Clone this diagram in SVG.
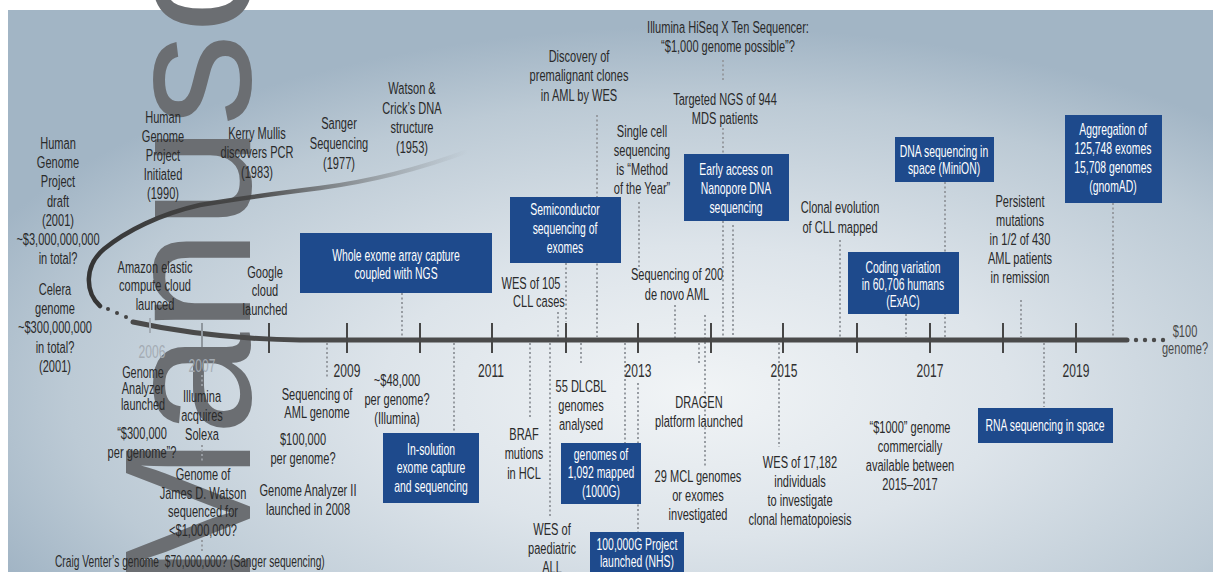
<svg xmlns="http://www.w3.org/2000/svg" width="1213" height="572" viewBox="0 0 1213 572">
<defs>
<radialGradient id="bg" cx="0.57" cy="0.68" r="0.65">
<stop offset="0" stop-color="#f1f4f6"/>
<stop offset="0.4" stop-color="#dde4ea"/>
<stop offset="0.8" stop-color="#bccad5"/>
<stop offset="1" stop-color="#a2b5c5"/>
</radialGradient>
<linearGradient id="curveFade" gradientUnits="userSpaceOnUse" x1="90" y1="0" x2="468" y2="0">
<stop offset="0" stop-color="#353535"/>
<stop offset="0.45" stop-color="#454545" stop-opacity="0.9"/>
<stop offset="1" stop-color="#707070" stop-opacity="0"/>
</linearGradient>
<style>
.t{font-family:"Liberation Sans",Arial,sans-serif;font-size:17px;fill:#2a2a2a;text-anchor:middle}
.w{font-family:"Liberation Sans",Arial,sans-serif;font-size:16px;fill:#ffffff;text-anchor:middle}
.yr{font-family:"Liberation Sans",Arial,sans-serif;font-size:18px;fill:#2f2f2f;text-anchor:middle}
.yf{font-family:"Liberation Sans",Arial,sans-serif;font-size:18px;fill:#a3abb3;text-anchor:middle}
.box{fill:#1e4a8c}
.dot{stroke:#979ca2;stroke-width:2;stroke-dasharray:2 2.5;fill:none}
.tick{stroke:#474747;stroke-width:2}
</style>
</defs>

<rect x="0" y="0" width="1213" height="572" fill="#ffffff"/>
<rect x="8" y="10" width="1205" height="562" fill="url(#bg)"/>

<text transform="translate(250,590) rotate(-90) scale(1.03,1)" font-family="Liberation Sans, Arial, sans-serif" font-size="180" fill="#6b6e72">Manusc</text>

<g id="connectors">
<line class="dot" x1="402" y1="293" x2="402" y2="337"/>
<line class="dot" x1="558" y1="312" x2="558" y2="337"/>
<line class="dot" x1="566" y1="263" x2="566" y2="322"/>
<line class="dot" x1="597" y1="115" x2="597" y2="337"/>
<line class="dot" x1="639" y1="202" x2="639" y2="270"/>
<line class="dot" x1="675" y1="305" x2="675" y2="340"/>
<line class="dot" x1="705" y1="315" x2="705" y2="467"/>
<line class="dot" x1="723" y1="60" x2="723" y2="82"/>
<line class="dot" x1="723" y1="128" x2="723" y2="153"/>
<line class="dot" x1="723" y1="221" x2="723" y2="337"/>
<line class="dot" x1="733" y1="225" x2="733" y2="337"/>
<line class="dot" x1="840" y1="240" x2="840" y2="337"/>
<line class="dot" x1="906" y1="314" x2="906" y2="337"/>
<line class="dot" x1="945" y1="182" x2="945" y2="337"/>
<line class="dot" x1="1021" y1="300" x2="1021" y2="337"/>
<line class="dot" x1="1113" y1="203" x2="1113" y2="338"/>
<line class="dot" x1="202" y1="375" x2="202" y2="388"/>
<line class="dot" x1="202" y1="445" x2="202" y2="462"/>
<line class="dot" x1="202" y1="540" x2="202" y2="553"/>
<line class="dot" x1="327" y1="343" x2="327" y2="378"/>
<line class="dot" x1="454" y1="343" x2="454" y2="432"/>
<line class="dot" x1="530" y1="343" x2="530" y2="417"/>
<line class="dot" x1="550" y1="343" x2="550" y2="518"/>
<line class="dot" x1="581" y1="343" x2="581" y2="365"/>
<line class="dot" x1="625" y1="343" x2="625" y2="443"/>
<line class="dot" x1="638" y1="383" x2="638" y2="532"/>
<line class="dot" x1="699" y1="343" x2="699" y2="365"/>
<line class="dot" x1="779" y1="343" x2="779" y2="447"/>
<line class="dot" x1="1044" y1="343" x2="1044" y2="407"/>
</g>

<g id="timeline">
<path d="M100,306 C85,292 84,266 104,249 C126,231 160,214 200,205 C240,198 280,193 320,188 C380,180 425,167 468,151" fill="none" stroke="url(#curveFade)" stroke-width="4.5" stroke-linecap="round"/>
<circle cx="108" cy="309" r="2" fill="#444"/>
<circle cx="117" cy="313" r="2" fill="#444"/>
<circle cx="126" cy="317" r="2" fill="#444"/>
<path d="M133,322 C170,330 230,339 300,340 L1127,340" fill="none" stroke="#4a4a4a" stroke-width="5" stroke-linecap="round"/>
<circle cx="1136" cy="340" r="2.2" fill="#4a4a4a"/>
<circle cx="1145" cy="340" r="2.2" fill="#4a4a4a"/>
<circle cx="1154" cy="340" r="2.2" fill="#4a4a4a"/>
<circle cx="1163" cy="340" r="2.2" fill="#4a4a4a"/>
<line x1="150" y1="318" x2="150" y2="333" stroke="#a3abb3" stroke-width="2"/>
<line x1="202" y1="323" x2="202" y2="347" stroke="#8f979e" stroke-width="2"/>
<line class="tick" x1="269" y1="323" x2="269" y2="353"/>
<line class="tick" x1="347" y1="323" x2="347" y2="353"/>
<line class="tick" x1="420" y1="323" x2="420" y2="353"/>
<line class="tick" x1="492" y1="323" x2="492" y2="353"/>
<line class="tick" x1="566" y1="323" x2="566" y2="353"/>
<line class="tick" x1="638" y1="323" x2="638" y2="353"/>
<line class="tick" x1="711" y1="323" x2="711" y2="353"/>
<line class="tick" x1="783" y1="323" x2="783" y2="353"/>
<line class="tick" x1="857" y1="323" x2="857" y2="353"/>
<line class="tick" x1="930" y1="323" x2="930" y2="353"/>
<line class="tick" x1="1003" y1="323" x2="1003" y2="353"/>
<line class="tick" x1="1076" y1="323" x2="1076" y2="353"/>
<text class="yf" transform="translate(152,358) scale(0.67,1)">2006</text>
<text class="yf" transform="translate(202,372) scale(0.67,1)">2007</text>
<text class="yr" transform="translate(347,377) scale(0.67,1)">2009</text>
<text class="yr" transform="translate(491,377) scale(0.67,1)">2011</text>
<text class="yr" transform="translate(638,377) scale(0.67,1)">2013</text>
<text class="yr" transform="translate(784,377) scale(0.67,1)">2015</text>
<text class="yr" transform="translate(930,377) scale(0.67,1)">2017</text>
<text class="yr" transform="translate(1076,377) scale(0.67,1)">2019</text>
</g>

<g id="n-hgp-draft"><text class="t" transform="translate(58,149) scale(0.65,1)"><tspan x="0">Human</tspan><tspan x="0" dy="19.2">Genome</tspan><tspan x="0" dy="19.2">Project</tspan><tspan x="0" dy="19.2">draft</tspan><tspan x="0" dy="19.2">(2001)</tspan><tspan x="0" dy="19.2">~$3,000,000,000</tspan><tspan x="0" dy="19.2">in total?</tspan></text></g>
<g id="n-celera"><text class="t" transform="translate(55,295) scale(0.65,1)"><tspan x="0">Celera</tspan><tspan x="0" dy="19.2">genome</tspan><tspan x="0" dy="19.2">~$300,000,000</tspan><tspan x="0" dy="19.2">in total?</tspan><tspan x="0" dy="19.2">(2001)</tspan></text></g>
<g id="n-hgp-init"><text class="t" transform="translate(163,123) scale(0.65,1)"><tspan x="0">Human</tspan><tspan x="0" dy="19">Genome</tspan><tspan x="0" dy="19">Project</tspan><tspan x="0" dy="19">Initiated</tspan><tspan x="0" dy="19">(1990)</tspan></text></g>
<g id="n-pcr"><text class="t" transform="translate(257,139) scale(0.65,1)"><tspan x="0">Kerry Mullis</tspan><tspan x="0" dy="19.5">discovers PCR</tspan><tspan x="0" dy="19.5">(1983)</tspan></text></g>
<g id="n-sanger"><text class="t" transform="translate(339,129) scale(0.65,1)"><tspan x="0">Sanger</tspan><tspan x="0" dy="20">Sequencing</tspan><tspan x="0" dy="20">(1977)</tspan></text></g>
<g id="n-watson-crick"><text class="t" transform="translate(412,94) scale(0.65,1)"><tspan x="0">Watson &amp;</tspan><tspan x="0" dy="19.7">Crick’s DNA</tspan><tspan x="0" dy="19.7">structure</tspan><tspan x="0" dy="19.7">(1953)</tspan></text></g>
<g id="n-premalignant"><text class="t" transform="translate(579,62) scale(0.65,1)"><tspan x="0">Discovery of</tspan><tspan x="0" dy="19.5">premalignant clones</tspan><tspan x="0" dy="19.5">in AML by WES</tspan></text></g>
<g id="n-hiseq"><text class="t" transform="translate(728,33) scale(0.65,1)"><tspan x="0">Illumina HiSeq X Ten Sequencer:</tspan><tspan x="0" dy="19">“$1,000 genome possible”?</tspan></text></g>
<g id="n-targeted"><text class="t" transform="translate(725,105) scale(0.65,1)"><tspan x="0">Targeted NGS of 944</tspan><tspan x="0" dy="19">MDS patients</tspan></text></g>
<g id="n-single-cell"><text class="t" transform="translate(642,137) scale(0.65,1)"><tspan x="0">Single cell</tspan><tspan x="0" dy="19">sequencing</tspan><tspan x="0" dy="19">is “Method</tspan><tspan x="0" dy="19">of the Year”</tspan></text></g>
<g id="n-clonal-cll"><text class="t" transform="translate(840,213) scale(0.65,1)"><tspan x="0">Clonal evolution</tspan><tspan x="0" dy="20">of CLL mapped</tspan></text></g>
<g id="n-denovo"><text class="t" transform="translate(677,280) scale(0.65,1)"><tspan x="0">Sequencing of 200</tspan><tspan x="0" dy="20">de novo AML</tspan></text></g>
<g id="n-wes105"><text class="t" transform="translate(531,289) scale(0.65,1)"><tspan x="0">WES of 105</tspan><tspan x="12.3" dy="18">CLL cases</tspan></text></g>
<g id="n-amazon"><text class="t" transform="translate(155,273) scale(0.65,1)"><tspan x="0">Amazon elastic</tspan><tspan x="0" dy="18.5">compute cloud</tspan><tspan x="0" dy="18.5">launced</tspan></text></g>
<g id="n-google"><text class="t" transform="translate(265,278) scale(0.65,1)"><tspan x="0">Google</tspan><tspan x="0" dy="18.5">cloud</tspan><tspan x="0" dy="18.5">launched</tspan></text></g>
<g id="n-ga-launch"><text class="t" style="font-size:16px" transform="translate(143,378) scale(0.68,1)"><tspan x="0">Genome</tspan><tspan x="0" dy="16">Analyzer</tspan><tspan x="0" dy="16">launched</tspan></text></g>
<g id="n-300k"><text class="t" transform="translate(142,439) scale(0.65,1)"><tspan x="0">“$300,000</tspan><tspan x="0" dy="19">per genome”?</tspan></text></g>
<g id="n-solexa"><text class="t" transform="translate(202,402) scale(0.65,1)"><tspan x="0">Illumina</tspan><tspan x="0" dy="19">acquires</tspan><tspan x="0" dy="19">Solexa</tspan></text></g>
<g id="n-watson-genome"><text class="t" transform="translate(203,480) scale(0.65,1)"><tspan x="0">Genome of</tspan><tspan x="0" dy="18.7">James D. Watson</tspan><tspan x="0" dy="18.7">sequenced for</tspan><tspan x="0" dy="18.7">&lt;$1,000,000?</tspan></text></g>
<g id="n-venter"><text class="t" style="text-anchor:start" transform="translate(55,567) scale(0.65,1)" textLength="415" lengthAdjust="spacingAndGlyphs">Craig Venter’s genome&#160; $70,000,000? (Sanger sequencing)</text></g>
<g id="n-aml-genome"><text class="t" transform="translate(317,400) scale(0.65,1)"><tspan x="0">Sequencing of</tspan><tspan x="0" dy="18">AML genome</tspan></text></g>
<g id="n-100k"><text class="t" transform="translate(303,445) scale(0.65,1)"><tspan x="0">$100,000</tspan><tspan x="0" dy="19">per genome?</tspan></text></g>
<g id="n-ga2"><text class="t" transform="translate(308,496) scale(0.65,1)"><tspan x="0">Genome Analyzer II</tspan><tspan x="0" dy="19">launched in 2008</tspan></text></g>
<g id="n-48k"><text class="t" transform="translate(397,386) scale(0.65,1)"><tspan x="0">~$48,000</tspan><tspan x="0" dy="19">per genome?</tspan><tspan x="0" dy="19">(Illumina)</tspan></text></g>
<g id="n-braf"><text class="t" transform="translate(524,440) scale(0.65,1)"><tspan x="0">BRAF</tspan><tspan x="0" dy="19.5">mutions</tspan><tspan x="0" dy="19.5">in HCL</tspan></text></g>
<g id="n-wes-all"><text class="t" transform="translate(552,535) scale(0.65,1)"><tspan x="0">WES of</tspan><tspan x="0" dy="19">paediatric</tspan><tspan x="0" dy="19">ALL</tspan></text></g>
<g id="n-dlcbl"><text class="t" transform="translate(581,392) scale(0.65,1)"><tspan x="0">55 DLCBL</tspan><tspan x="0" dy="19">genomes</tspan><tspan x="0" dy="19">analysed</tspan></text></g>
<g id="n-dragen"><text class="t" transform="translate(699,408) scale(0.65,1)"><tspan x="0">DRAGEN</tspan><tspan x="0" dy="19">platform launched</tspan></text></g>
<g id="n-mcl"><text class="t" transform="translate(698,482) scale(0.65,1)"><tspan x="0">29 MCL genomes</tspan><tspan x="0" dy="19">or exomes</tspan><tspan x="0" dy="19">investigated</tspan></text></g>
<g id="n-wes17182"><text class="t" transform="translate(800,468) scale(0.65,1)"><tspan x="0">WES of 17,182</tspan><tspan x="0" dy="19">individuals</tspan><tspan x="0" dy="19">to investigate</tspan><tspan x="0" dy="19">clonal hematopoiesis</tspan></text></g>
<g id="n-1000-commercial"><text class="t" transform="translate(910,433) scale(0.65,1)"><tspan x="0">“$1000” genome</tspan><tspan x="0" dy="19">commercially</tspan><tspan x="0" dy="19">available between</tspan><tspan x="0" dy="19">2015–2017</tspan></text></g>
<g id="n-persistent"><text class="t" transform="translate(1020,207) scale(0.65,1)"><tspan x="0">Persistent</tspan><tspan x="0" dy="19">mutations</tspan><tspan x="0" dy="19">in 1/2 of 430</tspan><tspan x="0" dy="19">AML patients</tspan><tspan x="0" dy="19">in remission</tspan></text></g>
<g id="n-100-genome"><text class="t" style="fill:#4a4a4a" transform="translate(1185,337) scale(0.65,1)"><tspan x="0">$100</tspan><tspan x="0" dy="17">genome?</tspan></text></g>

<g id="b-whole-exome"><rect class="box" x="300" y="233" width="192" height="60"/><text class="w" transform="translate(396,261) scale(0.65,1)"><tspan x="0">Whole exome array capture</tspan><tspan x="0" dy="18">coupled with NGS</tspan></text></g>
<g id="b-semiconductor"><rect class="box" x="510" y="197" width="111" height="66"/><text class="w" transform="translate(565,215) scale(0.65,1)"><tspan x="0">Semiconductor</tspan><tspan x="0" dy="19">sequencing of</tspan><tspan x="0" dy="19">exomes</tspan></text></g>
<g id="b-nanopore"><rect class="box" x="684" y="154" width="105" height="67"/><text class="w" transform="translate(736,175) scale(0.65,1)"><tspan x="0">Early access on</tspan><tspan x="0" dy="19">Nanopore DNA</tspan><tspan x="0" dy="19">sequencing</tspan></text></g>
<g id="b-space-dna"><rect class="box" x="895" y="137" width="99" height="45"/><text class="w" transform="translate(944,157) scale(0.65,1)"><tspan x="0">DNA sequencing in</tspan><tspan x="0" dy="17">space (MiniON)</tspan></text></g>
<g id="b-gnomad"><rect class="box" x="1065" y="115" width="97" height="88"/><text class="w" transform="translate(1113,135) scale(0.65,1)"><tspan x="0">Aggregation of</tspan><tspan x="0" dy="19">125,748 exomes</tspan><tspan x="0" dy="19">15,708 genomes</tspan><tspan x="0" dy="19">(gnomAD)</tspan></text></g>
<g id="b-exac"><rect class="box" x="848" y="252" width="111" height="62"/><text class="w" transform="translate(903,273) scale(0.65,1)"><tspan x="0">Coding variation</tspan><tspan x="0" dy="17">in 60,706 humans</tspan><tspan x="0" dy="17">(ExAC)</tspan></text></g>
<g id="b-rna-space"><rect class="box" x="978" y="408" width="135" height="35"/><text class="w" transform="translate(1045,431) scale(0.65,1)">RNA sequencing in space</text></g>
<g id="b-in-solution"><rect class="box" x="383" y="433" width="96" height="70"/><text class="w" transform="translate(431,455) scale(0.65,1)"><tspan x="0">In-solution</tspan><tspan x="0" dy="18.5">exome capture</tspan><tspan x="0" dy="18.5">and sequencing</tspan></text></g>
<g id="b-1000g"><rect class="box" x="561" y="443" width="80" height="61"/><text class="w" transform="translate(601,460) scale(0.65,1)"><tspan x="0">genomes of</tspan><tspan x="0" dy="18.5">1,092 mapped</tspan><tspan x="0" dy="18.5">(1000G)</tspan></text></g>
<g id="b-100000g"><rect class="box" x="590" y="532" width="94" height="45"/><text class="w" transform="translate(637,550) scale(0.65,1)"><tspan x="0">100,000G Project</tspan><tspan x="0" dy="17">launched (NHS)</tspan></text></g>
</svg>
